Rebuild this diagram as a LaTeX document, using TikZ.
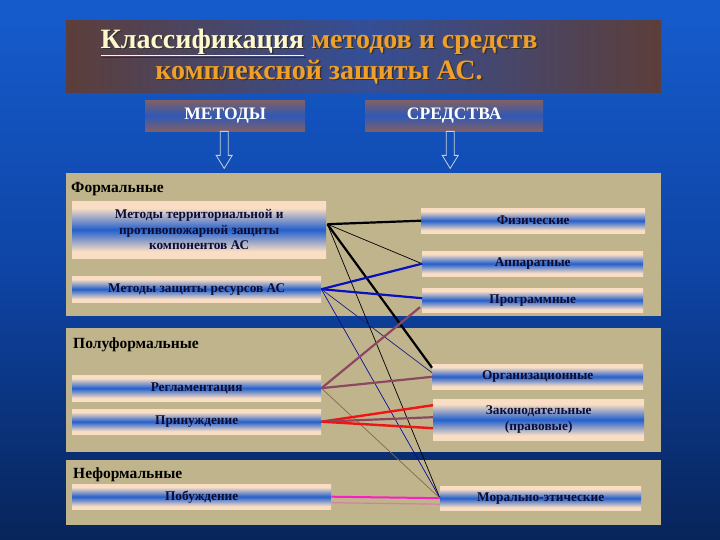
\documentclass[tikz,border=0pt]{standalone}
\usepackage{fontspec}
\setmainfont{Liberation Serif}
\usetikzlibrary{calc}
\definecolor{bgtop}{RGB}{22,92,205}
\definecolor{bgmid}{RGB}{14,68,165}
\definecolor{bgbot}{RGB}{8,36,90}
\definecolor{tbrown}{RGB}{92,62,58}
\definecolor{tblue}{RGB}{52,78,150}
\definecolor{hbrown}{RGB}{128,96,100}
\definecolor{hblue}{RGB}{48,88,184}
\definecolor{paneltan}{RGB}{192,180,140}
\definecolor{peach}{RGB}{250,222,196}
\definecolor{boxblue}{RGB}{36,96,204}
\definecolor{boxtext}{RGB}{12,12,52}
\definecolor{titleorange}{RGB}{240,160,40}
\definecolor{titlecream}{RGB}{255,248,205}
\definecolor{lnblue}{RGB}{10,16,190}
\definecolor{lnnavy}{RGB}{30,30,130}
\definecolor{lnmauve}{RGB}{140,72,96}
\definecolor{lnred}{RGB}{240,20,20}
\definecolor{lnmagenta}{RGB}{250,30,200}
\definecolor{lnbrown}{RGB}{130,105,80}
\definecolor{arrowgray}{RGB}{200,208,222}
\pgfdeclareverticalshading{itemshade}{100bp}{color(0bp)=(peach); color(31bp)=(peach); color(50bp)=(boxblue); color(69bp)=(peach); color(100bp)=(peach)}
\newcommand{\titletext}[1]{{\color{#1}\underline{Классификация}} методов и средств\\ комплексной защиты АС.}
\begin{document}
\begin{tikzpicture}[x=1pt,y=-1pt,
  titlebox/.style={rectangle, inner sep=0pt, anchor=north west, left color=tbrown, right color=tbrown, middle color=tblue},
  headbox/.style={rectangle, inner sep=0pt, anchor=north west, top color=hbrown, bottom color=hbrown, middle color=hblue,
     text=white, font=\bfseries\fontsize{17.5}{20}\selectfont},
  panel/.style={rectangle, inner sep=0pt, anchor=north west, fill=paneltan},
  panellabel/.style={anchor=base west, inner sep=0pt, text=black, font=\bfseries\fontsize{15.5}{18}\selectfont},
  itembox/.style={rectangle, inner sep=0pt, anchor=north west, shading=itemshade,
     text=boxtext, align=center, font=\bfseries\fontsize{13.3}{15.5}\selectfont},
  hollowarrow/.style={draw=arrowgray, line width=0.8pt},
  thickblack/.style={draw=black, line width=2.2pt},
  thinblack/.style={draw=black, line width=0.7pt},
  thickblue/.style={draw=lnblue, line width=2.2pt},
  thinnavy/.style={draw=lnnavy, line width=0.7pt},
  mauveline/.style={draw=lnmauve, line width=2.2pt},
  redline/.style={draw=lnred, line width=2.4pt},
  brownline/.style={draw=lnbrown, line width=0.7pt},
  magline/.style={draw=lnmagenta, line width=2pt}
]
\useasboundingbox (0,0) rectangle (720,540);
\shade[top color=bgtop, bottom color=bgbot, middle color=bgmid] (0,0) rectangle (720,540);

% title
\node[titlebox, minimum width=595, minimum height=72] (title) at (66,20) {};
\node[align=center, text=black!80, font=\bfseries\fontsize{28}{31}\selectfont] (titleshadow) at (320.5,58) {\titletext{black!80}};
\node[align=center, text=titleorange, font=\bfseries\fontsize{28}{31}\selectfont] (titletxt) at (319,56.5) {\titletext{titlecream}};

% header boxes
\node[headbox, minimum width=160, minimum height=31] (met) at (145,100) {МЕТОДЫ};
\node[headbox, minimum width=178, minimum height=31] (sred) at (365,100) {СРЕДСТВА};

% hollow arrows
\draw[hollowarrow] ($(met.south)+(-5,0)$) -- ($(met.south)+(3,0)$) -- ($(met.south)+(3,24)$) -- ($(met.south)+(7,24)$)
  -- ($(met.south)+(-1,37)$) -- ($(met.south)+(-9,24)$) -- ($(met.south)+(-5,24)$) -- cycle;
\draw[hollowarrow] ($(sred.south)+(-8,0)$) -- ($(sred.south)+(0,0)$) -- ($(sred.south)+(0,24)$) -- ($(sred.south)+(4,24)$)
  -- ($(sred.south)+(-4,37)$) -- ($(sred.south)+(-12,24)$) -- ($(sred.south)+(-8,24)$) -- cycle;

% panels
\node[panel, minimum width=595, minimum height=143] (pform) at (66,173) {};
\node[panel, minimum width=595, minimum height=124] (psemi) at (66,328) {};
\node[panel, minimum width=595, minimum height=65] (pinf) at (66,460) {};
\node[panellabel] (lform) at (71,193) {Формальные};
\node[panellabel] (lsemi) at (73,348) {Полуформальные};
\node[panellabel] (linf) at (73,478) {Неформальные};

% left boxes
\node[itembox, minimum width=254, minimum height=57] (m1) at (72,201) {Методы территориальной и\\противопожарной защиты\\компонентов АС};
\node[itembox, minimum width=249, minimum height=26] (m2) at (72,276) {Методы защиты ресурсов АС};
\node[itembox, minimum width=249, minimum height=26] (m3) at (72,375) {Регламентация};
\node[itembox, minimum width=249, minimum height=25] (m4) at (72,409) {Принуждение};
\node[itembox, minimum width=259, minimum height=25] (m5) at (72,484) {Побуждение};

% right boxes
\node[itembox, minimum width=224, minimum height=25] (s1) at (421,208) {Физические};
\node[itembox, minimum width=221, minimum height=25] (s2) at (422,251) {Аппаратные};
\node[itembox, minimum width=221, minimum height=24] (s3) at (422,288) {Программные};
\node[itembox, minimum width=211, minimum height=25] (s4) at (432,364) {Организационные};
\node[itembox, minimum width=211, minimum height=41] (s5) at (433,399) {Законодательные\\(правовые)};
\node[itembox, minimum width=201, minimum height=24] (s6) at (440,486) {Морально-этические};

% connectors
\coordinate (o1) at ($(m1.east)+(1,-5.5)$);
\draw[thinblack] (o1) -- (s2.west);
\draw[thinblack] (o1) -- (s6.west);
\draw[thinnavy] (m2.east) -- ($(s4.west)+(0,-4)$);
\draw[thinnavy, draw=lnblue!80!black] (m2.east) -- (s6.west);
\draw[brownline] (m3.east) -- (s6.west);
\draw[thickblack] (o1) -- (s1.west);
\draw[thickblack] (o1) -- ($(s4.west)+(0,-9)$);
\draw[thickblue] (m2.east) -- (s2.west);
\draw[thickblue] (m2.east) -- ($(s3.west)+(0,-2)$);
\draw[mauveline] (m3.east) -- ($(s3.west)+(-2,7)$);
\draw[mauveline] (m3.east) -- ($(s4.west)+(1,0)$);
\draw[redline] (m4.east) -- ($(s5.west)+(0,-14.5)$);
\draw[mauveline] (m4.east) -- ($(s5.west)+(0,-2.5)$);
\draw[redline] (m4.east) -- ($(s5.west)+(0,8.5)$);
\draw[draw=lnmagenta!35!paneltan, line width=1.2pt] ($(m5.east)+(0,6)$) -- ($(s6.west)+(0,6)$);
\draw[magline] (m5.east) -- (s6.west);
\end{tikzpicture}
\end{document}
